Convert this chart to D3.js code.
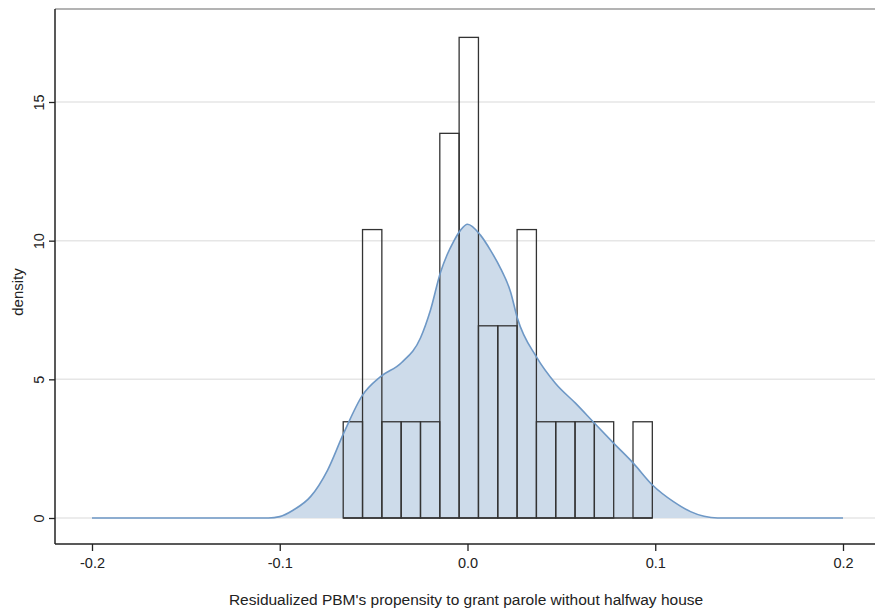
<!DOCTYPE html>
<html>
<head>
<meta charset="utf-8">
<script src="https://cdn.jsdelivr.net/npm/d3@7"></script>
<style>
body{margin:0;background:#fff;}
text{font-family:"Liberation Sans",Arial,sans-serif;fill:#222;}
</style>
</head>
<body>
<svg id="chart" width="875" height="611"></svg>
<script>
// Histogram bins (left edges) and densities
const binStart = -0.0662;
const binWidth = 0.01029;
const binDensity = [3.47, 10.4, 3.47, 3.47, 3.47, 13.87, 17.33, 6.93, 6.93, 10.4, 3.47, 3.47, 3.47, 3.47, 0, 3.47];
// Kernel density curve
const kdeX = [-0.2, -0.106, -0.1, -0.0927, -0.0836, -0.0745, -0.0660, -0.0559, -0.0463, -0.0352, -0.025, -0.0197, -0.0144, -0.0108, -0.0075, -0.0037, 0.0, 0.0069, 0.0122, 0.0176, 0.0229, 0.0266, 0.0368, 0.0469, 0.0575, 0.0676, 0.0778, 0.0884, 0.0985, 0.1097, 0.1188, 0.1260, 0.1332, 0.2];
const kdeY = [0, 0, 0.05, 0.29, 0.77, 1.73, 3.05, 4.43, 5.1, 5.6, 6.5, 7.5, 8.85, 9.5, 9.96, 10.38, 10.59, 10.2, 9.66, 9.0, 8.16, 7.2, 5.8, 4.85, 4.14, 3.42, 2.7, 1.97, 1.19, 0.59, 0.23, 0.06, 0, 0];
const xTicks = [-0.2, -0.1, 0.0, 0.1, 0.2];
const xTickLabels = ["-0.2", "-0.1", "0.0", "0.1", "0.2"];
const yTicks = [0, 5, 10, 15];
const xTitle = "Residualized PBM's propensity to grant parole without halfway house";
const yTitle = "density";

const svg = d3.select("#chart");
const frame = {left: 55, top: 9, right: 875, bottom: 544};
const x = d3.scaleLinear().domain([-0.2, 0.2]).range([92, 843]);
const y = d3.scaleLinear().domain([0, 15]).range([518, 102]);

// gridlines
svg.append("g").selectAll("line").data(yTicks).join("line")
  .attr("x1", frame.left).attr("x2", frame.right)
  .attr("y1", d => y(d)).attr("y2", d => y(d))
  .attr("stroke", "#e6e6e6").attr("stroke-width", 1.5);

// density
const pts = kdeX.map((d, i) => [d, kdeY[i]]);
const area = d3.area().x(d => x(d[0])).y0(y(0)).y1(d => y(d[1])).curve(d3.curveMonotoneX);
const line = d3.line().x(d => x(d[0])).y(d => y(d[1])).curve(d3.curveMonotoneX);
svg.append("path").datum(pts).attr("d", area).attr("fill", "#cddbea").attr("stroke", "none");

// histogram
const bins = binDensity.map((d, i) => ({x0: binStart + i * binWidth, x1: binStart + (i + 1) * binWidth, d}));
svg.append("g").selectAll("rect").data(bins.filter(b => b.d > 0)).join("rect")
  .attr("x", b => x(b.x0)).attr("width", b => x(b.x1) - x(b.x0))
  .attr("y", b => y(b.d)).attr("height", b => y(0) - y(b.d))
  .attr("fill", "none").attr("stroke", "#333").attr("stroke-width", 1.3);
svg.append("line").attr("x1", x(binStart)).attr("x2", x(binStart + binDensity.length * binWidth))
  .attr("y1", y(0)).attr("y2", y(0)).attr("stroke", "#333").attr("stroke-width", 1.3);

svg.append("path").datum(pts).attr("d", line).attr("fill", "none").attr("stroke", "#6e98c6").attr("stroke-width", 1.6);

// frame
svg.append("line").attr("x1", frame.left).attr("x2", frame.right).attr("y1", frame.top).attr("y2", frame.top)
  .attr("stroke", "#9a9a9a").attr("stroke-width", 1.5);

// axes
const xAxis = d3.axisBottom(x).tickValues(xTicks).tickFormat((d, i) => xTickLabels[i]).tickSize(7).tickSizeOuter(0);
const gx = svg.append("g").attr("transform", `translate(0,${frame.bottom})`).call(xAxis);
gx.select(".domain").remove();
gx.selectAll(".tick line").attr("stroke", "#222").attr("stroke-width", 1.3);
gx.selectAll(".tick text").attr("font-size", 14.5).attr("dy", "0.95em").attr("fill", "#222").attr("font-family", "Liberation Sans, Arial, sans-serif");
svg.append("line").attr("x1", frame.left).attr("x2", frame.right).attr("y1", frame.bottom).attr("y2", frame.bottom)
  .attr("stroke", "#222").attr("stroke-width", 1.5);

const yAxis = d3.axisLeft(y).tickValues(yTicks).tickSize(6).tickSizeOuter(0);
const gy = svg.append("g").attr("transform", `translate(${frame.left},0)`).call(yAxis);
gy.select(".domain").remove();
gy.selectAll(".tick line").attr("stroke", "#222").attr("stroke-width", 1.3);
gy.selectAll(".tick text").attr("font-size", 14.5).attr("fill", "#222").attr("font-family", "Liberation Sans, Arial, sans-serif")
  .attr("x", null).attr("dy", null).attr("text-anchor", "middle")
  .attr("transform", "translate(-11,0) rotate(-90)");
svg.append("line").attr("x1", frame.left).attr("x2", frame.left).attr("y1", frame.top).attr("y2", frame.bottom)
  .attr("stroke", "#222").attr("stroke-width", 1.5);

// titles
svg.append("text").attr("x", 466).attr("y", 605).attr("text-anchor", "middle").attr("font-size", 15.5).text(xTitle);
svg.append("text").attr("transform", "translate(23,292) rotate(-90)").attr("text-anchor", "middle").attr("font-size", 15).text(yTitle);
</script>
</body>
</html>
